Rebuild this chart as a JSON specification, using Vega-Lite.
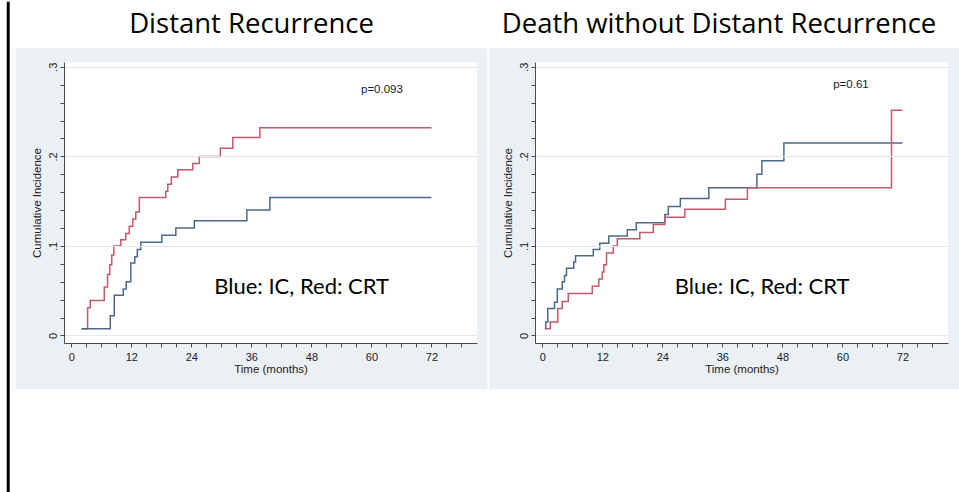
{
  "$schema": "https://vega.github.io/schema/vega-lite/v6.json",
  "background": "white",
  "padding": {"left": 6, "top": 0, "right": 0, "bottom": 0},
  "bounds": "flush",
  "spacing": 58,
  "config": {
    "view": {"stroke": null},
    "font": "Liberation Sans",
    "axis": {
      "domainColor": "#4a4a4a",
      "domainWidth": 1,
      "tickColor": "#4a4a4a",
      "tickWidth": 1,
      "tickSize": 4,
      "labelFont": "Liberation Sans",
      "labelFontSize": 11,
      "labelColor": "#222222",
      "labelOverlap": false,
      "labelFlush": false,
      "titleFont": "Liberation Sans",
      "titleFontSize": 11.5,
      "titleFontWeight": "normal",
      "titleColor": "#222222",
      "gridColor": "#e1e7ec",
      "gridWidth": 1
    }
  },
  "datasets": {
    "curves": [
      {"panel": "DR", "arm": "CRT", "t": 2.07, "ci": 0.0075},
      {"panel": "DR", "arm": "CRT", "t": 3.27, "ci": 0.031},
      {"panel": "DR", "arm": "CRT", "t": 3.8, "ci": 0.039},
      {"panel": "DR", "arm": "CRT", "t": 6.6, "ci": 0.054},
      {"panel": "DR", "arm": "CRT", "t": 7.25, "ci": 0.068},
      {"panel": "DR", "arm": "CRT", "t": 7.7, "ci": 0.079},
      {"panel": "DR", "arm": "CRT", "t": 8.1, "ci": 0.09},
      {"panel": "DR", "arm": "CRT", "t": 8.5, "ci": 0.1},
      {"panel": "DR", "arm": "CRT", "t": 9.9, "ci": 0.107},
      {"panel": "DR", "arm": "CRT", "t": 10.9, "ci": 0.114},
      {"panel": "DR", "arm": "CRT", "t": 11.6, "ci": 0.122},
      {"panel": "DR", "arm": "CRT", "t": 12.3, "ci": 0.13},
      {"panel": "DR", "arm": "CRT", "t": 12.9, "ci": 0.138},
      {"panel": "DR", "arm": "CRT", "t": 13.6, "ci": 0.154},
      {"panel": "DR", "arm": "CRT", "t": 18.9, "ci": 0.161},
      {"panel": "DR", "arm": "CRT", "t": 19.3, "ci": 0.169},
      {"panel": "DR", "arm": "CRT", "t": 20.0, "ci": 0.177},
      {"panel": "DR", "arm": "CRT", "t": 21.3, "ci": 0.185},
      {"panel": "DR", "arm": "CRT", "t": 24.3, "ci": 0.192},
      {"panel": "DR", "arm": "CRT", "t": 25.6, "ci": 0.2},
      {"panel": "DR", "arm": "CRT", "t": 29.8, "ci": 0.209},
      {"panel": "DR", "arm": "CRT", "t": 32.3, "ci": 0.221},
      {"panel": "DR", "arm": "CRT", "t": 37.7, "ci": 0.232},
      {"panel": "DR", "arm": "CRT", "t": 72, "ci": 0.232},
      {"panel": "DR", "arm": "IC", "t": 2.07, "ci": 0.0075},
      {"panel": "DR", "arm": "IC", "t": 7.8, "ci": 0.022},
      {"panel": "DR", "arm": "IC", "t": 8.6, "ci": 0.045},
      {"panel": "DR", "arm": "IC", "t": 10.4, "ci": 0.052},
      {"panel": "DR", "arm": "IC", "t": 11.0, "ci": 0.06},
      {"panel": "DR", "arm": "IC", "t": 11.9, "ci": 0.081},
      {"panel": "DR", "arm": "IC", "t": 12.7, "ci": 0.088},
      {"panel": "DR", "arm": "IC", "t": 13.2, "ci": 0.096},
      {"panel": "DR", "arm": "IC", "t": 13.9, "ci": 0.104},
      {"panel": "DR", "arm": "IC", "t": 18.1, "ci": 0.112},
      {"panel": "DR", "arm": "IC", "t": 20.9, "ci": 0.12},
      {"panel": "DR", "arm": "IC", "t": 24.6, "ci": 0.128},
      {"panel": "DR", "arm": "IC", "t": 35.1, "ci": 0.14},
      {"panel": "DR", "arm": "IC", "t": 39.7, "ci": 0.154},
      {"panel": "DR", "arm": "IC", "t": 72, "ci": 0.154},
      {"panel": "Death", "arm": "IC", "t": 0.5, "ci": 0.0074},
      {"panel": "Death", "arm": "IC", "t": 0.7, "ci": 0.015},
      {"panel": "Death", "arm": "IC", "t": 1.1, "ci": 0.03},
      {"panel": "Death", "arm": "IC", "t": 2.45, "ci": 0.037},
      {"panel": "Death", "arm": "IC", "t": 3.0, "ci": 0.052},
      {"panel": "Death", "arm": "IC", "t": 4.0, "ci": 0.06},
      {"panel": "Death", "arm": "IC", "t": 4.45, "ci": 0.067},
      {"panel": "Death", "arm": "IC", "t": 4.85, "ci": 0.075},
      {"panel": "Death", "arm": "IC", "t": 6.3, "ci": 0.082},
      {"panel": "Death", "arm": "IC", "t": 6.65, "ci": 0.089},
      {"panel": "Death", "arm": "IC", "t": 10.2, "ci": 0.096},
      {"panel": "Death", "arm": "IC", "t": 11.5, "ci": 0.103},
      {"panel": "Death", "arm": "IC", "t": 13.3, "ci": 0.111},
      {"panel": "Death", "arm": "IC", "t": 17.0, "ci": 0.118},
      {"panel": "Death", "arm": "IC", "t": 18.8, "ci": 0.126},
      {"panel": "Death", "arm": "IC", "t": 24.5, "ci": 0.135},
      {"panel": "Death", "arm": "IC", "t": 25.2, "ci": 0.144},
      {"panel": "Death", "arm": "IC", "t": 27.6, "ci": 0.153},
      {"panel": "Death", "arm": "IC", "t": 33.3, "ci": 0.165},
      {"panel": "Death", "arm": "IC", "t": 42.9, "ci": 0.18},
      {"panel": "Death", "arm": "IC", "t": 43.9, "ci": 0.195},
      {"panel": "Death", "arm": "IC", "t": 48.3, "ci": 0.215},
      {"panel": "Death", "arm": "IC", "t": 72, "ci": 0.215},
      {"panel": "Death", "arm": "CRT", "t": 0.8, "ci": 0.0074},
      {"panel": "Death", "arm": "CRT", "t": 1.6, "ci": 0.015},
      {"panel": "Death", "arm": "CRT", "t": 3.1, "ci": 0.03},
      {"panel": "Death", "arm": "CRT", "t": 4.0, "ci": 0.038},
      {"panel": "Death", "arm": "CRT", "t": 5.2, "ci": 0.047},
      {"panel": "Death", "arm": "CRT", "t": 10.0, "ci": 0.055},
      {"panel": "Death", "arm": "CRT", "t": 11.3, "ci": 0.063},
      {"panel": "Death", "arm": "CRT", "t": 12.0, "ci": 0.071},
      {"panel": "Death", "arm": "CRT", "t": 12.3, "ci": 0.079},
      {"panel": "Death", "arm": "CRT", "t": 12.85, "ci": 0.092},
      {"panel": "Death", "arm": "CRT", "t": 14.2, "ci": 0.1},
      {"panel": "Death", "arm": "CRT", "t": 15.0, "ci": 0.108},
      {"panel": "Death", "arm": "CRT", "t": 19.5, "ci": 0.115},
      {"panel": "Death", "arm": "CRT", "t": 22.2, "ci": 0.124},
      {"panel": "Death", "arm": "CRT", "t": 24.5, "ci": 0.132},
      {"panel": "Death", "arm": "CRT", "t": 28.5, "ci": 0.141},
      {"panel": "Death", "arm": "CRT", "t": 36.6, "ci": 0.152},
      {"panel": "Death", "arm": "CRT", "t": 41.0, "ci": 0.165},
      {"panel": "Death", "arm": "CRT", "t": 69.8, "ci": 0.2515},
      {"panel": "Death", "arm": "CRT", "t": 72, "ci": 0.2515}
    ],
    "notes": [
      {"panel": "DR", "heading": "Distant Recurrence", "pvalue": "p=0.093", "key": "Blue: IC, Red: CRT"},
      {"panel": "Death", "heading": "Death without Distant Recurrence", "pvalue": "p=0.61", "key": "Blue: IC, Red: CRT"}
    ]
  },
  "hconcat": [
    {
      "width": 413,
      "height": 281,
      "layer": [
        {
          "data": {"values": [{}]},
          "mark": {"type": "rect", "color": "#eaf0f4"},
          "encoding": {
            "x": {"datum": -11.1, "type": "quantitative", "scale": {"domain": [-1.45, 81.1], "nice": false, "zero": false}},
            "x2": {"datum": 83.18},
            "y": {"datum": 0.3207, "type": "quantitative", "scale": {"domain": [-0.0084, 0.3054], "nice": false, "zero": false}},
            "y2": {"datum": -0.0601}
          }
        },
        {
          "data": {"values": [{}]},
          "mark": {"type": "rule", "color": "#000000", "strokeWidth": 3},
          "encoding": {
            "x": {"datum": -12.6, "type": "quantitative"},
            "y": {"datum": 0.3726, "type": "quantitative"},
            "y2": {"datum": -0.1751}
          }
        },
        {
          "data": {"values": [{}]},
          "mark": {"type": "rect", "color": "#ffffff"},
          "encoding": {
            "x": {"datum": -1.45, "type": "quantitative"},
            "x2": {"datum": 81.1},
            "y": {"datum": 0.3054, "type": "quantitative"},
            "y2": {"datum": -0.0084}
          }
        },
        {
          "data": {"name": "curves"},
          "transform": [{"filter": "datum.panel === 'DR'"}],
          "mark": {"type": "line", "interpolate": "step-after", "strokeWidth": 1.5},
          "encoding": {
            "x": {
              "field": "t", "type": "quantitative",
              "scale": {"domain": [-1.45, 81.1], "nice": false, "zero": false},
              "axis": {
                "zindex": 1,
                "title": "Time (months)",
                "values": [0, 3, 6, 9, 12, 15, 18, 21, 24, 27, 30, 33, 36, 39, 42, 45, 48, 51, 54, 57, 60, 63, 66, 69, 72, 75, 78],
                "tickCount": 100,
                "labelExpr": "datum.value % 12 === 0 ? datum.label : ''",
                "labelOverlap": false,
                "grid": false,
                "labelPadding": 4,
                "titlePadding": 1
              }
            },
            "y": {
              "field": "ci", "type": "quantitative",
              "scale": {"domain": [-0.0084, 0.3054], "nice": false, "zero": false},
              "axis": {
                "zindex": 1,
                "title": "Cumulative Incidence",
                "values": [0, 0.02, 0.04, 0.06, 0.08, 0.1, 0.12, 0.14, 0.16, 0.18, 0.2, 0.22, 0.24, 0.26, 0.28, 0.3],
                "tickCount": 100,
                "labelExpr": "abs(datum.value) < 0.001 ? '0' : abs(datum.value - 0.1) < 0.001 ? '.1' : abs(datum.value - 0.2) < 0.001 ? '.2' : abs(datum.value - 0.3) < 0.001 ? '.3' : ''",
                "labelOverlap": false,
                "labelAngle": 270,
                "labelAlign": "center",
                "labelBaseline": "bottom",
                "labelPadding": 2,
                "titlePadding": 5,
                "grid": true,
                "gridOpacity": {"condition": {"test": "abs(datum.value * 10 - round(datum.value * 10)) < 0.01", "value": 1}, "value": 0}
              }
            },
            "color": {"field": "arm", "type": "nominal", "scale": {"domain": ["IC", "CRT"], "range": ["#4b6a8b", "#c25a6c"]}, "legend": null}
          }
        },
        {
          "data": {"name": "notes"},
          "transform": [{"filter": "datum.panel === 'DR'"}],
          "mark": {"type": "text", "font": "Open Sans", "fontSize": 27.5, "color": "#000000", "align": "center", "baseline": "alphabetic"},
          "encoding": {
            "x": {"datum": 36.03, "type": "quantitative"},
            "y": {"datum": 0.3374, "type": "quantitative"},
            "text": {"field": "heading"}
          }
        },
        {
          "data": {"name": "notes"},
          "transform": [{"filter": "datum.panel === 'DR'"}],
          "mark": {"type": "text", "font": "Liberation Sans", "fontSize": 11.5, "color": "#222222", "align": "center", "baseline": "middle"},
          "encoding": {
            "x": {"datum": 62.1, "type": "quantitative"},
            "y": {"datum": 0.2737, "type": "quantitative"},
            "text": {"field": "pvalue"}
          }
        },
        {
          "data": {"name": "notes"},
          "transform": [{"filter": "datum.panel === 'DR'"}],
          "mark": {"type": "text", "font": "Lato", "fontSize": 22, "color": "#000000", "align": "center", "baseline": "alphabetic"},
          "encoding": {
            "x": {"datum": 46.05, "type": "quantitative"},
            "y": {"datum": 0.0466, "type": "quantitative"},
            "text": {"field": "key"}
          }
        }
      ]
    },
    {
      "width": 413,
      "height": 281,
      "layer": [
        {
          "data": {"values": [{}]},
          "mark": {"type": "rect", "color": "#eaf0f4"},
          "encoding": {
            "x": {"datum": -10.58, "type": "quantitative", "scale": {"domain": [-1.45, 81.1], "nice": false, "zero": false}},
            "x2": {"datum": 83.3},
            "y": {"datum": 0.3207, "type": "quantitative", "scale": {"domain": [-0.0084, 0.3054], "nice": false, "zero": false}},
            "y2": {"datum": -0.0601}
          }
        },
        {
          "data": {"values": [{}]},
          "mark": {"type": "rect", "color": "#ffffff"},
          "encoding": {
            "x": {"datum": -1.45, "type": "quantitative"},
            "x2": {"datum": 81.1},
            "y": {"datum": 0.3054, "type": "quantitative"},
            "y2": {"datum": -0.0084}
          }
        },
        {
          "data": {"name": "curves"},
          "transform": [{"filter": "datum.panel === 'Death'"}],
          "mark": {"type": "line", "interpolate": "step-after", "strokeWidth": 1.5},
          "encoding": {
            "x": {
              "field": "t", "type": "quantitative",
              "scale": {"domain": [-1.45, 81.1], "nice": false, "zero": false},
              "axis": {
                "zindex": 1,
                "title": "Time (months)",
                "values": [0, 3, 6, 9, 12, 15, 18, 21, 24, 27, 30, 33, 36, 39, 42, 45, 48, 51, 54, 57, 60, 63, 66, 69, 72, 75, 78],
                "tickCount": 100,
                "labelExpr": "datum.value % 12 === 0 ? datum.label : ''",
                "labelOverlap": false,
                "grid": false,
                "labelPadding": 4,
                "titlePadding": 1
              }
            },
            "y": {
              "field": "ci", "type": "quantitative",
              "scale": {"domain": [-0.0084, 0.3054], "nice": false, "zero": false},
              "axis": {
                "zindex": 1,
                "title": "Cumulative Incidence",
                "values": [0, 0.02, 0.04, 0.06, 0.08, 0.1, 0.12, 0.14, 0.16, 0.18, 0.2, 0.22, 0.24, 0.26, 0.28, 0.3],
                "tickCount": 100,
                "labelExpr": "abs(datum.value) < 0.001 ? '0' : abs(datum.value - 0.1) < 0.001 ? '.1' : abs(datum.value - 0.2) < 0.001 ? '.2' : abs(datum.value - 0.3) < 0.001 ? '.3' : ''",
                "labelOverlap": false,
                "labelAngle": 270,
                "labelAlign": "center",
                "labelBaseline": "bottom",
                "labelPadding": 2,
                "titlePadding": 5,
                "grid": true,
                "gridOpacity": {"condition": {"test": "abs(datum.value * 10 - round(datum.value * 10)) < 0.01", "value": 1}, "value": 0}
              }
            },
            "color": {"field": "arm", "type": "nominal", "scale": {"domain": ["IC", "CRT"], "range": ["#4b6a8b", "#c25a6c"]}, "legend": null}
          }
        },
        {
          "data": {"name": "notes"},
          "transform": [{"filter": "datum.panel === 'Death'"}],
          "mark": {"type": "text", "font": "Open Sans", "fontSize": 27.5, "color": "#000000", "align": "center", "baseline": "alphabetic"},
          "encoding": {
            "x": {"datum": 35.33, "type": "quantitative"},
            "y": {"datum": 0.3374, "type": "quantitative"},
            "text": {"field": "heading"}
          }
        },
        {
          "data": {"name": "notes"},
          "transform": [{"filter": "datum.panel === 'Death'"}],
          "mark": {"type": "text", "font": "Liberation Sans", "fontSize": 11.5, "color": "#222222", "align": "center", "baseline": "middle"},
          "encoding": {
            "x": {"datum": 61.7, "type": "quantitative"},
            "y": {"datum": 0.2793, "type": "quantitative"},
            "text": {"field": "pvalue"}
          }
        },
        {
          "data": {"name": "notes"},
          "transform": [{"filter": "datum.panel === 'Death'"}],
          "mark": {"type": "text", "font": "Lato", "fontSize": 22, "color": "#000000", "align": "center", "baseline": "alphabetic"},
          "encoding": {
            "x": {"datum": 43.95, "type": "quantitative"},
            "y": {"datum": 0.0466, "type": "quantitative"},
            "text": {"field": "key"}
          }
        }
      ]
    }
  ]
}
